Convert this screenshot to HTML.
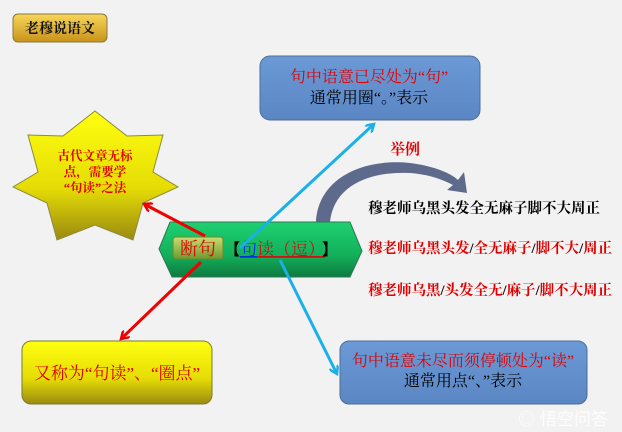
<!DOCTYPE html>
<html><head><meta charset="utf-8"><style>
html,body{margin:0;padding:0;background:#f2f2f2;}
svg{display:block;}
text{font-family:"Liberation Serif","Noto Serif CJK SC","Noto Sans CJK SC",serif;}
.b{font-weight:bold;}
</style></head><body>
<svg width="622" height="432" viewBox="0 0 622 432" xmlns="http://www.w3.org/2000/svg">
<defs>
<linearGradient id="gold" x1="0" y1="0" x2="0" y2="1"><stop offset="0" stop-color="#f7d65a"/><stop offset="1" stop-color="#c9921a"/></linearGradient>
<linearGradient id="yel" x1="0" y1="0" x2="0" y2="1"><stop offset="0" stop-color="#ffff10"/><stop offset="0.6" stop-color="#e5dc05"/><stop offset="1" stop-color="#9a8a10"/></linearGradient>
<linearGradient id="grn" x1="0" y1="0" x2="0" y2="1"><stop offset="0" stop-color="#1ed070"/><stop offset="0.6" stop-color="#13b05a"/><stop offset="1" stop-color="#0e7a40"/></linearGradient>
<linearGradient id="btn" x1="0" y1="0" x2="0" y2="1"><stop offset="0" stop-color="#c9dc70"/><stop offset="1" stop-color="#6c9a30"/></linearGradient>
<linearGradient id="blu" x1="0" y1="0" x2="0" y2="1"><stop offset="0" stop-color="#6b9ad6"/><stop offset="1" stop-color="#5b86c4"/></linearGradient>
<marker id="ar" markerWidth="10" markerHeight="10" refX="8" refY="5" orient="auto" markerUnits="userSpaceOnUse"><path d="M0,0 L8,5 L0,10" fill="none" stroke="#f00000" stroke-width="2.5"/></marker>
<marker id="ab" markerWidth="10" markerHeight="10" refX="8" refY="5" orient="auto" markerUnits="userSpaceOnUse"><path d="M0,0 L8,5 L0,10" fill="none" stroke="#1ab0e8" stroke-width="2.5"/></marker>
</defs>

<rect x="13" y="14" width="94" height="28" rx="5" fill="url(#gold)" stroke="#8a7a40"/>
<text x="60" y="33" text-anchor="middle" font-size="14" class="b" fill="#111">老穆说语文</text>

<polygon points="95,111 127,136 163,135 153,172 178,187 143,203 133,240 95,225 57,240 47,203 13,187 38,172 28,135 63,136" fill="url(#yel)" stroke="#8a8a40"/>
<text x="95" y="160" text-anchor="middle" font-size="12.5" class="b" fill="#e00000">古代文章无标</text>
<text x="95" y="176" text-anchor="middle" font-size="12.5" class="b" fill="#e00000">点，需要学</text>
<text x="95" y="192" text-anchor="middle" font-size="12.5" class="b" fill="#e00000">“句读”之法</text>

<rect x="260" y="56" width="220" height="64" rx="10" fill="url(#blu)" stroke="#4d6c9a"/>
<text x="369" y="82" text-anchor="middle" font-size="16" fill="#e00000">句中语意已尽处为“句”</text>
<text x="369" y="103" text-anchor="middle" font-size="16" fill="#000">通常用圈“。”表示</text>

<path d="M316,222 C318,180 360,158 410,163 C435,166 452,174 458,180 L464,172 L467,193 L447,190 L453,185 C440,178 425,174 410,173 C370,171 334,185 330,222 Z" fill="#5e6a8c"/>
<text x="405" y="154" text-anchor="middle" font-size="15" class="b" fill="#e00000">举例</text>

<polygon points="159,249 170,222 350,222 362,251 350,277 172,277" fill="url(#grn)" stroke="#2a7a50"/>
<rect x="173" y="237" width="50" height="22" rx="3" fill="url(#btn)" stroke="#6a8a30"/>
<text x="198" y="255" text-anchor="middle" font-size="18" fill="#e00000">断句</text>
<text x="224" y="255" font-size="16" fill="#000" style='font-family:"Noto Sans CJK SC",sans-serif;font-weight:900'>【</text>
<text x="240" y="255" font-size="17" fill="#0030e0" text-decoration="underline">句</text>
<text x="257" y="255" font-size="17" fill="#d01010" text-decoration="underline">读（逗）</text>
<text x="322" y="255" font-size="16" fill="#000" style='font-family:"Noto Sans CJK SC",sans-serif;font-weight:900'>】</text>

<line x1="205" y1="236" x2="144" y2="204" stroke="#f00000" stroke-width="3" marker-end="url(#ar)"/>
<line x1="201" y1="262" x2="121" y2="339" stroke="#f00000" stroke-width="3" marker-end="url(#ar)"/>
<line x1="240" y1="248" x2="374" y2="124" stroke="#1ab0e8" stroke-width="3" marker-end="url(#ab)"/>
<line x1="280" y1="260" x2="337" y2="374" stroke="#1ab0e8" stroke-width="3" marker-end="url(#ab)"/>

<text x="368" y="213" font-size="14.5" class="b" fill="#000">穆老师乌黑头发全无麻子脚不大周正</text>
<text x="368" y="253" font-size="14.5" class="b" fill="#e00000">穆老师乌黑头发<tspan fill="#000">/</tspan>全无麻子<tspan fill="#000">/</tspan>脚不大<tspan fill="#000">/</tspan>周正</text>
<text x="368" y="295" font-size="14.5" class="b" fill="#e00000">穆老师乌黑<tspan fill="#000">/</tspan>头发全无<tspan fill="#000">/</tspan>麻子<tspan fill="#000">/</tspan>脚不大周正</text>

<rect x="22" y="341" width="190" height="63" rx="9" fill="url(#yel)" stroke="#7a7a30"/>
<text x="117" y="379" text-anchor="middle" font-size="17" fill="#e00000">又称为“句读”、“圈点”</text>

<rect x="340" y="341" width="247" height="63" rx="9" fill="url(#blu)" stroke="#4d6c9a"/>
<text x="463" y="366" text-anchor="middle" font-size="16" fill="#e00000">句中语意未尽而须停顿处为“读”</text>
<text x="463" y="386" text-anchor="middle" font-size="16" fill="#000">通常用点“、”表示</text>

<text x="608" y="425" text-anchor="end" font-size="17" fill="#ffffff" opacity="0.85" style='font-family:"Liberation Sans","Noto Sans CJK SC",sans-serif'>◎ 悟空问答</text>
</svg>
</body></html>
